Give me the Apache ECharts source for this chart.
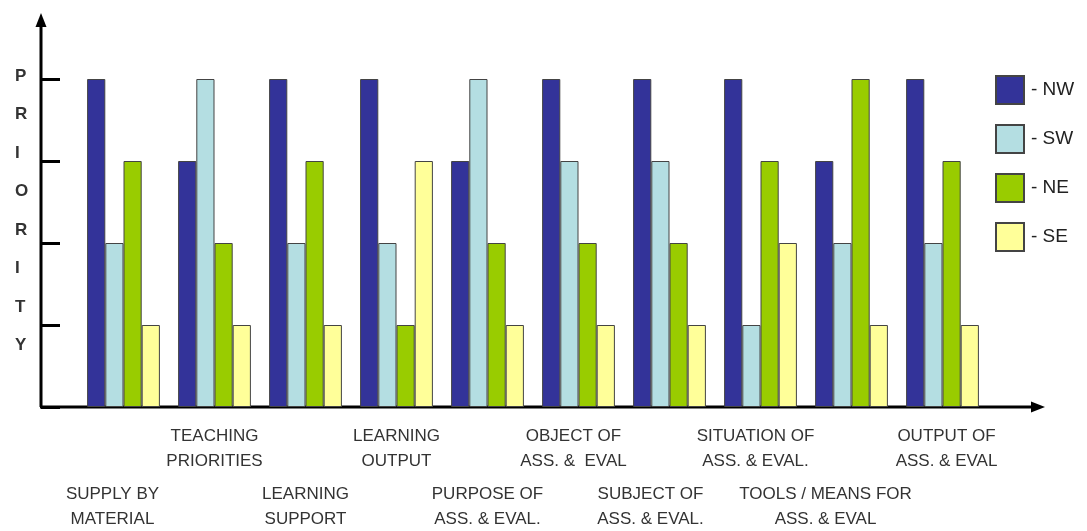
<!DOCTYPE html>
<html>
<head>
<meta charset="utf-8">
<script src="https://cdn.jsdelivr.net/npm/echarts@6/dist/echarts.min.js"></script>
<style>
html,body{margin:0;padding:0;background:#fff;}
#chart{width:1087px;height:531px;}
</style>
</head>
<body>
<div id="chart"></div>
<script>
const categories = [
  "SUPPLY BY\nMATERIAL",
  "TEACHING\nPRIORITIES",
  "LEARNING\nSUPPORT",
  "LEARNING\nOUTPUT",
  "PURPOSE OF\nASS. & EVAL.",
  "OBJECT OF\nASS. &  EVAL",
  "SUBJECT OF\nASS. & EVAL.",
  "SITUATION OF\nASS. & EVAL.",
  "TOOLS / MEANS FOR\nASS. & EVAL",
  "OUTPUT OF\nASS. & EVAL"
];
const seriesNames = ["NW", "SW", "NE", "SE"];
const nwValues = [4, 3, 4, 4, 3, 4, 4, 4, 3, 4];
const swValues = [2, 4, 2, 2, 4, 3, 3, 1, 2, 2];
const neValues = [3, 2, 3, 1, 2, 2, 2, 3, 4, 3];
const seValues = [1, 1, 1, 3, 1, 1, 1, 2, 1, 1];
const yTicks = [0, 1, 2, 3, 4];
const axisTitle = "PRIORITY";

const colors = ["#333399", "#B4DEE2", "#99CC00", "#FFFF99"];
const valueSets = [nwValues, swValues, neValues, seValues];
// horizontal nudges of the category labels (styling, px)
const labelNudge = [-11, 0, 0, 0, 0, -5, -19, -5, -26, 4];

const chart = echarts.init(document.getElementById('chart'), null, {renderer: 'canvas'});

const labelFont = '"Liberation Sans Narrow", "Arial Narrow", "Liberation Sans", Arial, sans-serif';

const rich = {gap: {fontSize: 4, lineHeight: 58}};
labelNudge.forEach((d, i) => {
  rich['t' + i] = {
    fontFamily: labelFont, fontSize: 17, lineHeight: 25, color: '#333',
    padding: d >= 0 ? [0, 0, 0, 2 * d] : [0, -2 * d, 0, 0]
  };
});

const option = {
  animation: false,
  backgroundColor: '#ffffff',
  grid: {left: 78, right: 99, top: 79, bottom: 124, containLabel: false},
  legend: {
    orient: 'vertical',
    left: 995,
    top: 75,
    padding: 0,
    itemWidth: 28,
    itemHeight: 28,
    itemGap: 19,
    icon: 'rect',
    formatter: name => '- ' + name,
    textStyle: {fontFamily: 'Liberation Sans, Arial, sans-serif', fontSize: 19, color: '#222', padding: [0, 0, 0, 2]},
    data: seriesNames
  },
  xAxis: {
    type: 'category',
    data: categories,
    axisLine: {show: false},
    axisTick: {show: false},
    axisLabel: {
      interval: 0,
      margin: 17,
      formatter: (val, idx) => {
        const lines = val.split('\n').map(l => '{t' + idx + '|' + l + '}').join('\n');
        return idx % 2 === 0 ? '{gap| }\n' + lines : lines;
      },
      rich: rich
    }
  },
  yAxis: {
    type: 'value',
    min: yTicks[0],
    max: yTicks[yTicks.length - 1],
    interval: 1,
    offset: 37,
    axisLine: {show: false},
    axisLabel: {show: false},
    splitLine: {show: false},
    axisTick: {show: true, inside: true, length: 19, lineStyle: {color: '#000', width: 3}}
  },
  series: seriesNames.map((name, i) => ({
    name: name,
    type: 'bar',
    data: valueSets[i],
    barGap: '0%',
    barCategoryGap: '20%',
    itemStyle: {color: colors[i], borderColor: '#444', borderWidth: 1}
  })),
  graphic: [
    {type: 'line', shape: {x1: 41, y1: 407, x2: 41, y2: 24}, style: {stroke: '#000', lineWidth: 3}},
    {type: 'polygon', shape: {points: [[41, 13], [35.5, 27], [46.5, 27]]}, style: {fill: '#000'}},
    {type: 'line', shape: {x1: 40, y1: 407, x2: 1032, y2: 407}, style: {stroke: '#000', lineWidth: 3}},
    {type: 'polygon', shape: {points: [[1045, 407], [1031, 401.5], [1031, 412.5]]}, style: {fill: '#000'}},
    {type: 'text', left: 15, top: 57, style: {
      text: axisTitle.split('').join('\n'),
      font: 'bold 17px "Liberation Sans", Arial, sans-serif',
      lineHeight: 38.5, fill: '#333', align: 'center'
    }}
  ]
};
chart.setOption(option);
</script>
</body>
</html>
